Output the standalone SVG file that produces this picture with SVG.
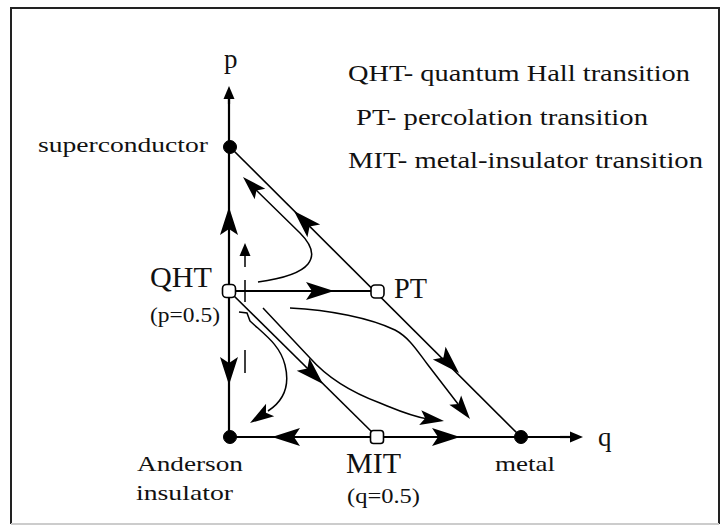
<svg xmlns="http://www.w3.org/2000/svg" xmlns:xlink="http://www.w3.org/1999/xlink" width="725" height="529" viewBox="0 0 725 529">
<style>
.ax{stroke:#000;stroke-width:2.2;fill:none}
.ln{stroke:#000;stroke-width:1.6;fill:none}
.fl{stroke:#000;stroke-width:1.5;fill:none}
.ah{fill:#000}
text{font-family:"Liberation Serif","Times New Roman",serif;fill:#111}
.lg{font-size:24px}
.lb{font-size:22px}
.big{font-size:29px}
.sm{font-size:20px}
.filled{fill:#000;stroke:#000;stroke-width:1}
.open{fill:#fff;stroke:#000;stroke-width:1.6}
</style>
<defs>
<path id="ah" d="M0,0 L-28,-9 L-22,0 L-28,9 Z"/>
<path id="ahs" d="M0,0 L-24,-7.5 L-19,0 L-24,7.5 Z"/>
<path id="aht" d="M0,0 L-13,-5.5 L-13,5.5 Z"/>
</defs>
<rect x="0" y="0" width="725" height="529" fill="#fff"/>
<g id="frame">
<path d="M11,524 V8 H719 V524" fill="none" stroke="#222" stroke-width="2"/>
<path d="M11,524 H719" fill="none" stroke="#ccc" stroke-width="2"/>
</g>
<g id="connectors">
<path class="ax" d="M229,437 V96"/>
<path class="ax" d="M229,437 H572"/>
<path class="ax" d="M229,104 V94" stroke-width="5"/>
<path class="ax" d="M560,437 H572" stroke-width="5"/>
<use href="#aht" class="ah" transform="translate(229,86) rotate(-90)"/>
<use href="#aht" class="ah" transform="translate(583,437)"/>
<path class="ln" d="M230,147 L521,437"/>
<path class="ax" d="M229,291 H377"/>
<path class="ln" d="M229,291 L377,437"/>
<use href="#ah" class="ah" transform="translate(229,207) rotate(-90)"/>
<use href="#ah" class="ah" transform="translate(229,385) rotate(90)"/>
<use href="#ah" class="ah" transform="translate(272,437) rotate(180)"/>
<use href="#ah" class="ah" transform="translate(460,437)"/>
<use href="#ah" class="ah" transform="translate(334,291)"/>
<use href="#ah" class="ah" transform="translate(294,211) rotate(-135)"/>
<use href="#ah" class="ah" transform="translate(459,373) rotate(45)"/>
<use href="#ah" class="ah" transform="translate(323,384) rotate(44.6)"/>
<path id="flowA" class="fl" d="M258,282 C280,279 300,274 308,264 C316,254 310,243 300,233 L252,186"/>
<use href="#ahs" class="ah" transform="translate(243,177) rotate(-135)"/>
<path id="flowB" class="fl" d="M263,308 L310,358 C325,375 345,390 380,403 C395,409 410,416 428,419"/>
<use href="#ahs" class="ah" transform="translate(444,421) rotate(8)"/>
<path id="flowC" class="fl" d="M290,308 C330,310 370,318 395,330 C410,338 418,352 428,365 L458,404"/>
<use href="#ahs" class="ah" transform="translate(470,419) rotate(52)"/>
<path id="flowD" class="fl" d="M239,312 L247,313 L250,321 C265,335 280,345 285,365 C290,385 285,400 268,411"/>
<use href="#ahs" class="ah" transform="translate(250,423) rotate(147)"/>
<path class="fl" d="M245,253 V267 M245,280 V302 M245,350 V373"/>
<use href="#aht" class="ah" transform="translate(245,243) rotate(-90)"/>
</g>
<g id="node-superconductor">
<circle class="filled" cx="230" cy="147" r="6.5"/>
<text class="lb" x="38" y="152" textLength="170" lengthAdjust="spacingAndGlyphs">superconductor</text>
</g>
<g id="node-QHT">
<rect class="open" x="222.5" y="284.5" width="13" height="13" rx="4"/>
<text class="big" x="150" y="287" textLength="62" lengthAdjust="spacingAndGlyphs">QHT</text>
<text class="sm" x="150" y="322" textLength="70" lengthAdjust="spacingAndGlyphs">(p=0.5)</text>
</g>
<g id="node-PT">
<rect class="open" x="371" y="285" width="13" height="13" rx="4"/>
<text class="big" x="394" y="298" textLength="33" lengthAdjust="spacingAndGlyphs">PT</text>
</g>
<g id="node-Anderson">
<circle class="filled" cx="230" cy="437" r="6.5"/>
<text class="lb" x="137" y="471" textLength="106" lengthAdjust="spacingAndGlyphs">Anderson</text>
<text class="lb" x="136" y="500" textLength="97" lengthAdjust="spacingAndGlyphs">insulator</text>
</g>
<g id="node-MIT">
<rect class="open" x="370.5" y="430.5" width="13" height="13" rx="3"/>
<text class="big" x="346" y="473" textLength="55" lengthAdjust="spacingAndGlyphs">MIT</text>
<text class="sm" x="347" y="503" textLength="73" lengthAdjust="spacingAndGlyphs">(q=0.5)</text>
</g>
<g id="node-metal">
<circle class="filled" cx="521" cy="437" r="6.5"/>
<text class="lb" x="495" y="471" textLength="60" lengthAdjust="spacingAndGlyphs">metal</text>
</g>
<g id="labels">
<text x="224" y="68" font-size="27">p</text>
<text x="598" y="446" font-size="27">q</text>
<text class="lg" x="348" y="81" textLength="342" lengthAdjust="spacingAndGlyphs">QHT- quantum Hall transition</text>
<text class="lg" x="356" y="125" textLength="292" lengthAdjust="spacingAndGlyphs">PT- percolation transition</text>
<text class="lg" x="348" y="168" textLength="355" lengthAdjust="spacingAndGlyphs">MIT- metal-insulator transition</text>
</g>
</svg>
